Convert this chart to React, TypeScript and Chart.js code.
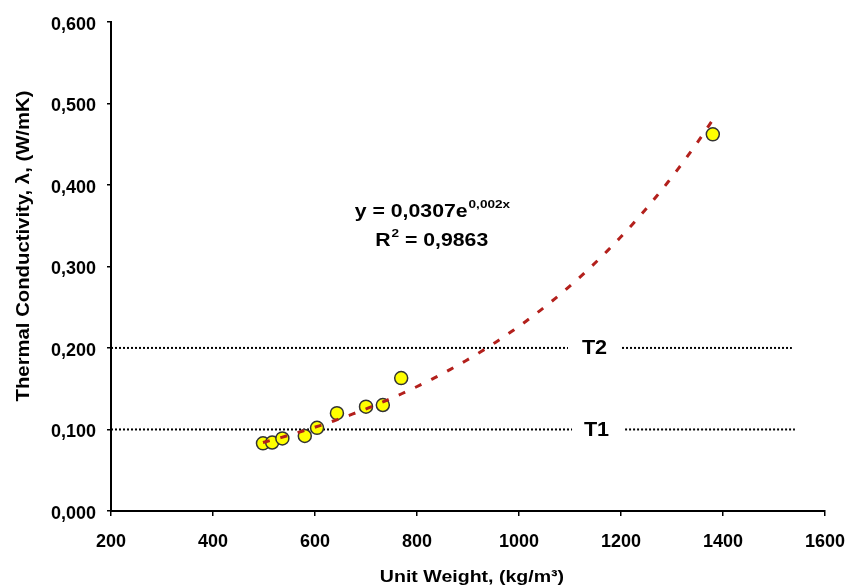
import React, { useEffect, useRef } from 'react';
import { Chart, registerables } from 'chart.js';

Chart.register(...registerables);

// ---- data ----
const unitWeight = [498, 516, 536, 580, 604, 643, 700, 733, 769, 1380];
const conductivity = [0.083, 0.084, 0.089, 0.092, 0.102, 0.12, 0.128, 0.13, 0.163, 0.462];

const xMin = 200;
const xMax = 1600;
const xStep = 200;
const yMin = 0;
const yMax = 0.6;
const yStep = 0.1;

const thresholdValues = [0.1, 0.2];
const thresholdLabels = ['T1', 'T2'];
const thresholdLabelX = [1152, 1148];
const thresholdSegments = [
  [[200, 1104], [1208, 1541]],
  [[200, 1096], [1202, 1535]],
];

const equationText = 'y = 0,0307e';
const equationExp = '0,002x';
const equationAnchor = [678, 0.3604];
const r2Text = ' = 0,9863';
const r2Anchor = [718, 0.3249];

const xTitle = 'Unit Weight, (kg/m³)';
const yTitle = 'Thermal Conductivity, λ, (W/mK)';

const FONT = '"Liberation Sans", Arial, Helvetica, sans-serif';

// exponential least-squares fit (log-linear), like a spreadsheet trendline
function expFit(xs: number[], ys: number[]) {
  const n = xs.length;
  const ly = ys.map((v) => Math.log(v));
  const mx = xs.reduce((s, v) => s + v, 0) / n;
  const my = ly.reduce((s, v) => s + v, 0) / n;
  let sxy = 0;
  let sxx = 0;
  for (let i = 0; i < n; i++) {
    sxy += (xs[i] - mx) * (ly[i] - my);
    sxx += (xs[i] - mx) * (xs[i] - mx);
  }
  const b = sxy / sxx;
  const a = Math.exp(my - b * mx);
  return { a, b };
}

// draw text with a horizontal stretch; returns drawn width
function stretchText(
  ctx: CanvasRenderingContext2D,
  text: string,
  x: number,
  y: number,
  size: number,
  sx: number,
  align: CanvasTextAlign = 'left',
  baseline: CanvasTextBaseline = 'alphabetic'
) {
  ctx.save();
  ctx.font = `bold ${size}px ${FONT}`;
  ctx.textAlign = align;
  ctx.textBaseline = baseline;
  ctx.translate(x, y);
  ctx.scale(sx, 1);
  ctx.fillText(text, 0, 0);
  const w = ctx.measureText(text).width * sx;
  ctx.restore();
  return w;
}

export default function App() {
  const ref = useRef<HTMLCanvasElement | null>(null);

  useEffect(() => {
    if (!ref.current) return;
    const { a, b } = expFit(unitWeight, conductivity);
    const x0 = Math.min(...unitWeight);
    const x1 = Math.max(...unitWeight);
    const trend: { x: number; y: number }[] = [];
    const N = 120;
    for (let i = 0; i <= N; i++) {
      const x = x0 + ((x1 - x0) * i) / N;
      trend.push({ x, y: a * Math.exp(b * x) });
    }

    const thresholdDatasets: any[] = [];
    thresholdSegments.forEach((segs, k) => {
      segs.forEach((seg) => {
        thresholdDatasets.push({
          data: seg.map((x) => ({ x, y: thresholdValues[k] })),
          showLine: true,
          borderColor: '#000',
          borderWidth: 2,
          borderDash: [2, 2],
          pointRadius: 0,
          fill: false,
          order: 3,
        });
      });
    });

    const overlay = {
      id: 'overlay',
      afterDraw(chart: any) {
        const ctx = chart.ctx as CanvasRenderingContext2D;
        const xs = chart.scales.x;
        const ys = chart.scales.y;
        ctx.save();
        ctx.fillStyle = '#000';

        // threshold labels
        thresholdLabels.forEach((t, k) => {
          stretchText(
            ctx,
            t,
            xs.getPixelForValue(thresholdLabelX[k]),
            ys.getPixelForValue(thresholdValues[k]) + 1,
            20,
            1.08,
            'center',
            'middle'
          );
        });

        // equation
        const SX = 1.18;
        let ex = xs.getPixelForValue(equationAnchor[0]);
        const ey = ys.getPixelForValue(equationAnchor[1]);
        ex += stretchText(ctx, equationText, ex, ey, 18, SX);
        stretchText(ctx, equationExp, ex + 1, ey - 9, 11.5, SX);

        let rx = xs.getPixelForValue(r2Anchor[0]);
        const ry = ys.getPixelForValue(r2Anchor[1]);
        rx += stretchText(ctx, 'R', rx, ry, 18, SX);
        rx += stretchText(ctx, '2', rx + 1, ry - 9, 11.5, SX) + 1;
        stretchText(ctx, r2Text, rx, ry, 18, SX);

        // axis titles
        stretchText(ctx, xTitle, (xs.left + xs.right) / 2 + 4, 577, 17, 1.15, 'center', 'middle');

        ctx.save();
        ctx.translate(24, 246);
        ctx.rotate(-Math.PI / 2);
        stretchText(ctx, yTitle, 0, 0, 17.5, 1.16, 'center', 'middle');
        ctx.restore();

        ctx.restore();
      },
    };

    const chart = new Chart(ref.current, {
      type: 'scatter',
      data: {
        datasets: [
          {
            data: trend,
            showLine: true,
            borderColor: '#b3201c',
            borderWidth: 3,
            borderDash: [7, 11],
            pointRadius: 0,
            fill: false,
            order: 1,
          },
          {
            data: unitWeight.map((x, i) => ({ x, y: conductivity[i] })),
            backgroundColor: '#ffff00',
            borderColor: '#333333',
            borderWidth: 1.5,
            pointRadius: 6.5,
            order: 2,
          },
          ...thresholdDatasets,
        ],
      },
      options: {
        animation: false,
        responsive: false,
        maintainAspectRatio: false,
        layout: { padding: { top: 16.5, right: 36, bottom: 0, left: 0 } },
        plugins: {
          legend: { display: false },
          tooltip: { enabled: false },
        },
        scales: {
          x: {
            type: 'linear',
            min: xMin,
            max: xMax,
            afterFit(scale: any) {
              scale.height = 75;
            },
            ticks: {
              stepSize: xStep,
              color: '#000',
              font: { family: FONT, size: 18, weight: 'bold' },
              padding: 15,
              maxRotation: 0,
              callback: (v: any) => String(v),
            },
            grid: {
              drawOnChartArea: false,
              drawTicks: true,
              tickLength: 5,
              color: '#000',
              lineWidth: 1.5,
            },
            border: { display: true, color: '#000', width: 2 },
          },
          y: {
            type: 'linear',
            min: yMin,
            max: yMax,
            afterFit(scale: any) {
              scale.width = 111;
            },
            ticks: {
              stepSize: yStep,
              color: '#000',
              font: { family: FONT, size: 18, weight: 'bold' },
              padding: 11,
              labelOffset: 3,
              callback: (v: any) => Number(v).toFixed(3).replace('.', ','),
            },
            grid: {
              drawOnChartArea: false,
              drawTicks: true,
              tickLength: 4,
              color: '#000',
              lineWidth: 1.5,
            },
            border: { display: true, color: '#000', width: 2 },
          },
        },
      },
      plugins: [overlay],
    } as any);

    return () => chart.destroy();
  }, []);

  return (
    <div style={{ position: 'fixed', left: 0, top: 0, width: 861, height: 586, background: '#fff' }}>
      <canvas ref={ref} width={861} height={586} style={{ width: 861, height: 586, display: 'block' }} />
    </div>
  );
}
